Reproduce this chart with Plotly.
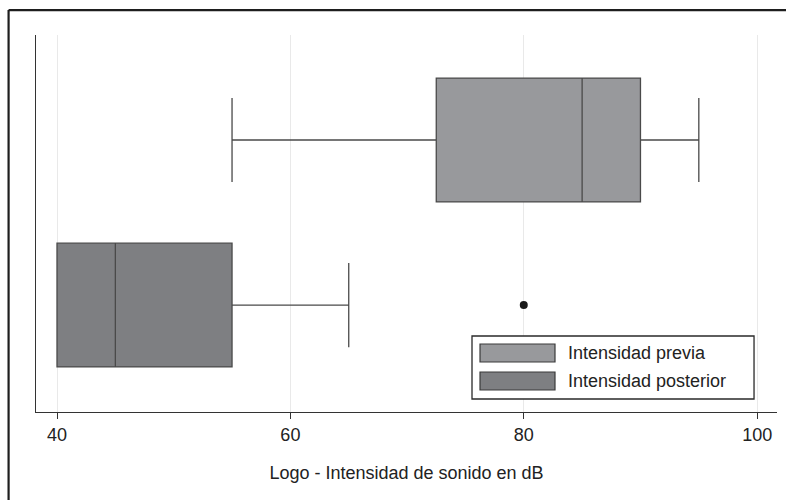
import plotly.graph_objects as go

# Summary statistics for each group (dB)
groups = ["Intensidad posterior", "Intensidad previa"]
positions = [0, 1]
lower_fence = [40, 55]
q1 = [40, 72.5]
median = [45, 85]
q3 = [55, 90]
upper_fence = [65, 95]
fills = ["#7e7f82", "#98999c"]

# Outliers: (group index, value)
outlier_group = [0]
outlier_value = [80]

x_ticks = [40, 60, 80, 100]
x_title = "Logo - Intensidad de sonido en dB"

FONT = "Liberation Sans, Arial, sans-serif"
EDGE = "#4a4a4a"

fig = go.Figure()
for i, name in enumerate(groups):
    fig.add_trace(go.Box(
        orientation="h",
        y=[positions[i]],
        lowerfence=[lower_fence[i]],
        q1=[q1[i]],
        median=[median[i]],
        q3=[q3[i]],
        upperfence=[upper_fence[i]],
        name=name,
        width=0.75,
        whiskerwidth=0.68,
        fillcolor=fills[i],
        line=dict(color=EDGE, width=1.3),
        boxpoints=False,
        showlegend=False,
        hoverinfo="skip",
    ))

fig.add_trace(go.Scatter(
    x=outlier_value,
    y=[positions[g] for g in outlier_group],
    mode="markers",
    marker=dict(color="#1a1a1a", size=8),
    showlegend=False,
    hoverinfo="skip",
))

# Outer frame around the figure
shapes = [
    dict(type="line", xref="paper", yref="paper", x0=-0.037, y0=-0.3, x1=-0.037, y1=1.066,
         line=dict(color="#1e1e1e", width=2.2)),
    dict(type="line", xref="paper", yref="paper", x0=-0.037, y0=1.066, x1=1.05, y1=1.066,
         line=dict(color="#1e1e1e", width=2.2)),
]

# Legend panel with wide swatches
lx0, lx1, ly0, ly1 = 0.5884, 0.9690, 0.0345, 0.2016
shapes.append(dict(type="rect", xref="paper", yref="paper", x0=lx0, x1=lx1, y0=ly0, y1=ly1,
                   line=dict(color="#2a2a2a", width=1.3), fillcolor="white", layer="above"))
legend_rows = [(0.1326, 0.1804, 0.1565), (0.0584, 0.1061, 0.0822)]
legend_order = [1, 0]
annotations = []
for (sy0, sy1, ty), gi in zip(legend_rows, legend_order):
    shapes.append(dict(type="rect", xref="paper", yref="paper", x0=0.5992, x1=0.7004,
                       y0=sy0, y1=sy1, fillcolor=fills[gi],
                       line=dict(color="#3a3a3a", width=1.2), layer="above"))
    annotations.append(dict(xref="paper", yref="paper", x=0.7150, y=ty, text=groups[gi],
                            showarrow=False, xanchor="left", yanchor="middle",
                            font=dict(family=FONT, size=18, color="#222222")))

fig.update_layout(
    width=786, height=500,
    margin=dict(l=36, r=9, t=35, b=88),
    paper_bgcolor="white",
    plot_bgcolor="white",
    shapes=shapes,
    annotations=annotations,
    showlegend=False,
    xaxis=dict(
        range=[38.2, 101.7],
        tickvals=x_ticks,
        ticks="outside", ticklen=6, tickwidth=1.2, tickcolor="#333333",
        tickfont=dict(family=FONT, size=18, color="#222222"),
        showgrid=True, gridcolor="#e9e9e9", gridwidth=1.2,
        showline=True, linecolor="#333333", linewidth=1.3,
        zeroline=False,
        title=dict(text=x_title, font=dict(family=FONT, size=18, color="#222222"), standoff=22),
    ),
    yaxis=dict(
        range=[-0.648, 1.636],
        showticklabels=False, ticks="",
        showgrid=False, zeroline=False,
        showline=True, linecolor="#333333", linewidth=1.3,
    ),
)

fig.write_html("out.html")
